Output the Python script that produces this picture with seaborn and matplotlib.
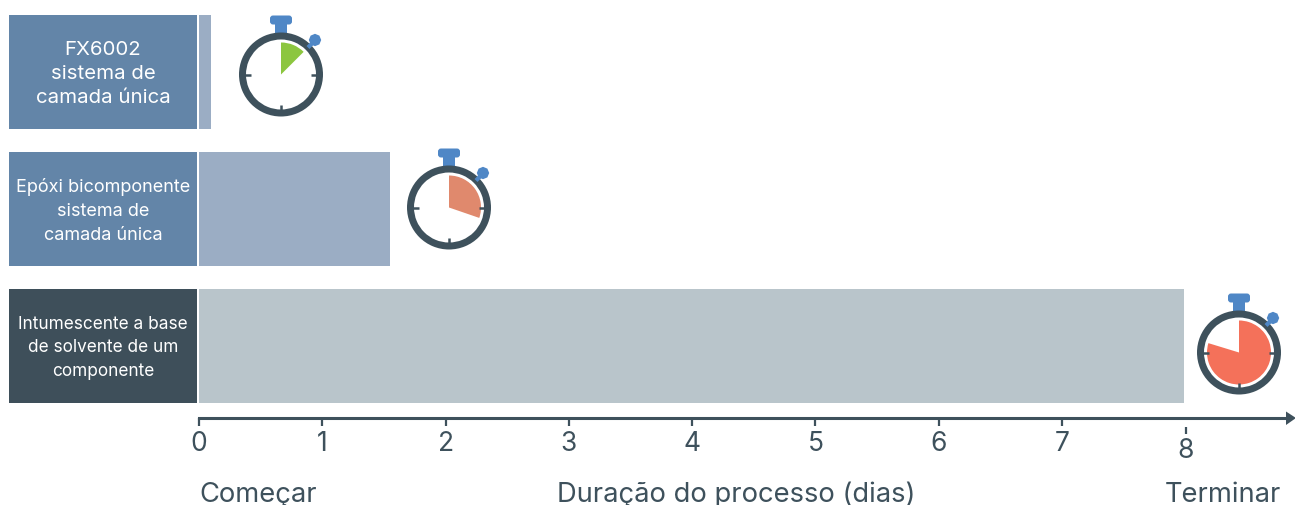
import matplotlib
matplotlib.use('Agg')
import matplotlib.pyplot as plt
from matplotlib.patches import Circle, FancyBboxPatch, Polygon, Rectangle, RegularPolygon, Wedge
import pandas as pd
import seaborn as sns

# dados do grafico
categorias = ['FX6002\nsistema de\ncamada única',
              'Epóxi bicomponente\nsistema de\ncamada única',
              'Intumescente a base\nde solvente de um\ncomponente']
dias = [0.1, 1.55, 7.99]
angulo_relogio = [45, 109, 287]  # graus no sentido horario
ticks_dias = [0, 1, 2, 3, 4, 5, 6, 7]
cor_barra = ['#9badc4', '#9badc4', '#b9c5cb']
cor_caixa = ['#6385a8', '#6385a8', '#3e4f5a']
cor_relogio = ['#8cc63f', '#e0896d', '#f4715a']

ESCURO = '#3e515c'
AZUL = '#4f87c6'
W, H = 1295, 506
PX_DIA = 123.3
X0 = 199
plt.rcParams['font.family'] = ['Inter', 'DejaVu Sans']

df = pd.DataFrame({'cat': categorias, 'dias': dias})

fig = plt.figure(figsize=(W / 100, H / 100), dpi=100)
ax = fig.add_axes([0, 0, 1, 1])
sns.barplot(data=df, x='dias', y='cat', hue='cat', palette=cor_barra, width=114 / 137,
            legend=False, saturation=1, ax=ax)
ax.set_xlim(-X0 / PX_DIA, (W - X0) / PX_DIA)
ax.set_ylim((H - 72.8) / 137, -72.8 / 137)
ax.set_xlabel('')
ax.set_ylabel('')
ax.set_yticks([])
ax.patch.set_alpha(0)
sns.despine(ax=ax, left=True, top=True, right=True)

# eixo x
linha_y = (419 - 72.8) / 137
ax.spines['bottom'].set_position(('data', linha_y))
ax.spines['bottom'].set_bounds(0, (1288 - X0) / PX_DIA)
ax.spines['bottom'].set_color(ESCURO)
ax.spines['bottom'].set_linewidth(2.2)
ax.set_xticks(ticks_dias)
ax.tick_params(axis='x', length=5.5, width=1.6, color=ESCURO, labelcolor=ESCURO,
               labelsize=19, pad=3.5)

# camada em pixels para caixas e relogios
ov = fig.add_axes([0, 0, 1, 1])
ov.set_xlim(0, W)
ov.set_ylim(H - 0.5, -0.5)
ov.axis('off')
ov.patch.set_alpha(0)


def relogio(cx, cy, angulo, cor):
    ov.add_patch(FancyBboxPatch((cx - 8.5, cy - 56.5), 17, 4, boxstyle='round,pad=2.5,rounding_size=3', fc=AZUL, ec='none'))
    ov.add_patch(Rectangle((cx - 6, cy - 51), 12, 9, fc=AZUL, ec='none'))
    ov.plot([cx + 27, cx + 34], [cy - 27, cy - 34], color=AZUL, lw=3, solid_capstyle='butt')
    ov.add_patch(RegularPolygon((cx + 34, cy - 34.5), 8, radius=6.2, fc=AZUL, ec='none'))
    ov.add_patch(Circle((cx, cy), 40, fc='white', ec='none'))
    ov.add_patch(Wedge((cx, cy), 32, -90, -90 + angulo, fc=cor, ec='none'))
    ov.add_patch(Wedge((cx, cy), 42, 0, 360, width=7, fc=ESCURO, ec='none'))
    ov.plot([cx - 36, cx - 30], [cy, cy], color=ESCURO, lw=1.8, solid_capstyle='butt')
    ov.plot([cx + 30, cx + 36], [cy, cy], color=ESCURO, lw=1.8, solid_capstyle='butt')
    ov.plot([cx, cx], [cy + 30, cy + 36], color=ESCURO, lw=1.8, solid_capstyle='butt')


centros = [(281, 75), (449, 208), (1239, 353)]
topos = [15, 152, 289]
tamanhos = [14.7, 13, 12.4]
entrelinha = [1.4, 1.5, 1.52]
for i, nome in enumerate(categorias):
    ov.add_patch(Rectangle((9, topos[i]), 188, 114, fc=cor_caixa[i], ec='none'))
    ov.text(103, topos[i] + 58.5, nome, color='white', fontsize=tamanhos[i], ha='center', va='center',
            linespacing=entrelinha[i])
    relogio(centros[i][0], centros[i][1], angulo_relogio[i], cor_relogio[i])

# seta e marca do 8
ov.add_patch(Polygon([(1286, 412), (1296, 418.5), (1286, 425.5)], fc=ESCURO, ec='none'))
ov.plot([1185.5, 1185.5], [427, 434], color=ESCURO, lw=1.6, solid_capstyle='butt')
ov.text(1185.5, 451, '8', color=ESCURO, fontsize=19, ha='center', va='center')

ov.text(199, 502, 'Começar', color=ESCURO, fontsize=19.7, ha='left', va='baseline')
ov.text(736, 502, 'Duração do processo (dias)', color=ESCURO, fontsize=19.7, ha='center', va='baseline')
ov.text(1223, 502, 'Terminar', color=ESCURO, fontsize=19.7, ha='center', va='baseline')

fig.savefig('out.png', dpi=100)
